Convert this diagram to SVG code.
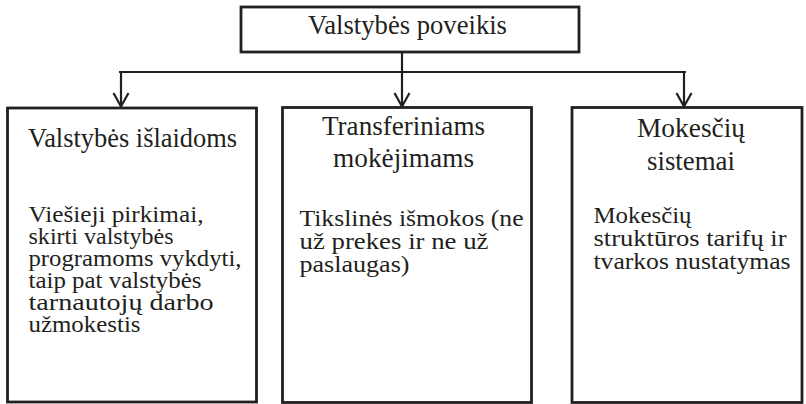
<svg xmlns="http://www.w3.org/2000/svg" width="806" height="404" viewBox="0 0 806 404">
<defs>
<style>
.box{fill:#fff;stroke:#231f20;stroke-width:2.8}
.ln{fill:none;stroke:#231f20;stroke-width:2.2}
text{font-family:'Liberation Serif','Times New Roman',Times,serif;fill:#231f20}
.h{font-size:27px}
.b{font-size:24px}
</style>
</defs>
<rect width="806" height="404" fill="#fff"/>
<g id="connectors">
<line class="ln" x1="402" y1="52" x2="402" y2="72"/>
<line class="ln" x1="119" y1="72" x2="686" y2="72"/>
<line class="ln" x1="121" y1="72" x2="121" y2="106"/>
<line class="ln" x1="402" y1="72" x2="402" y2="106"/>
<line class="ln" x1="684" y1="72" x2="684" y2="106"/>
<polyline class="ln" points="113.5,93 121,106.5 128.5,93"/>
<polyline class="ln" points="394.5,93 402,106.5 409.5,93"/>
<polyline class="ln" points="676.5,93 684,106.5 691.5,93"/>
</g>
<g id="top">
<rect class="box" x="241" y="7" width="338" height="45"/>
<text class="h" x="308" y="34" textLength="199" lengthAdjust="spacingAndGlyphs">Valstybės poveikis</text>
</g>
<g id="islaidos">
<rect class="box" x="7.5" y="108" width="249" height="294"/>
<text class="h" x="28" y="147" textLength="209" lengthAdjust="spacingAndGlyphs">Valstybės išlaidoms</text>
<text class="b" x="28.5" y="222" textLength="175" lengthAdjust="spacingAndGlyphs">Viešieji pirkimai,</text>
<text class="b" x="28.5" y="244" textLength="145" lengthAdjust="spacingAndGlyphs">skirti valstybės</text>
<text class="b" x="28.5" y="266" textLength="213" lengthAdjust="spacingAndGlyphs">programoms vykdyti,</text>
<text class="b" x="28.5" y="288" textLength="173" lengthAdjust="spacingAndGlyphs">taip pat valstybės</text>
<text class="b" x="28.5" y="310" textLength="185" lengthAdjust="spacingAndGlyphs">tarnautojų darbo</text>
<text class="b" x="28.5" y="332" textLength="112" lengthAdjust="spacingAndGlyphs">užmokestis</text>
</g>
<g id="transferiniai">
<rect class="box" x="282.5" y="107.5" width="249" height="295"/>
<text class="h" x="322" y="135" textLength="163" lengthAdjust="spacingAndGlyphs">Transferiniams</text>
<text class="h" x="333" y="167" textLength="141" lengthAdjust="spacingAndGlyphs">mokėjimams</text>
<text class="b" x="299.5" y="226" textLength="224" lengthAdjust="spacingAndGlyphs">Tikslinės išmokos (ne</text>
<text class="b" x="299.5" y="249" textLength="189" lengthAdjust="spacingAndGlyphs">už prekes ir ne už</text>
<text class="b" x="299.5" y="272" textLength="110" lengthAdjust="spacingAndGlyphs">paslaugas)</text>
</g>
<g id="mokesciai">
<rect class="box" x="572" y="107.5" width="230" height="295"/>
<text class="h" x="637" y="137" textLength="108" lengthAdjust="spacingAndGlyphs">Mokesčių</text>
<text class="h" x="647" y="170" textLength="88" lengthAdjust="spacingAndGlyphs">sistemai</text>
<text class="b" x="593.5" y="223" textLength="98" lengthAdjust="spacingAndGlyphs">Mokesčių</text>
<text class="b" x="593.5" y="246" textLength="193" lengthAdjust="spacingAndGlyphs">struktūros tarifų ir</text>
<text class="b" x="593.5" y="269" textLength="197" lengthAdjust="spacingAndGlyphs">tvarkos nustatymas</text>
</g>
</svg>
